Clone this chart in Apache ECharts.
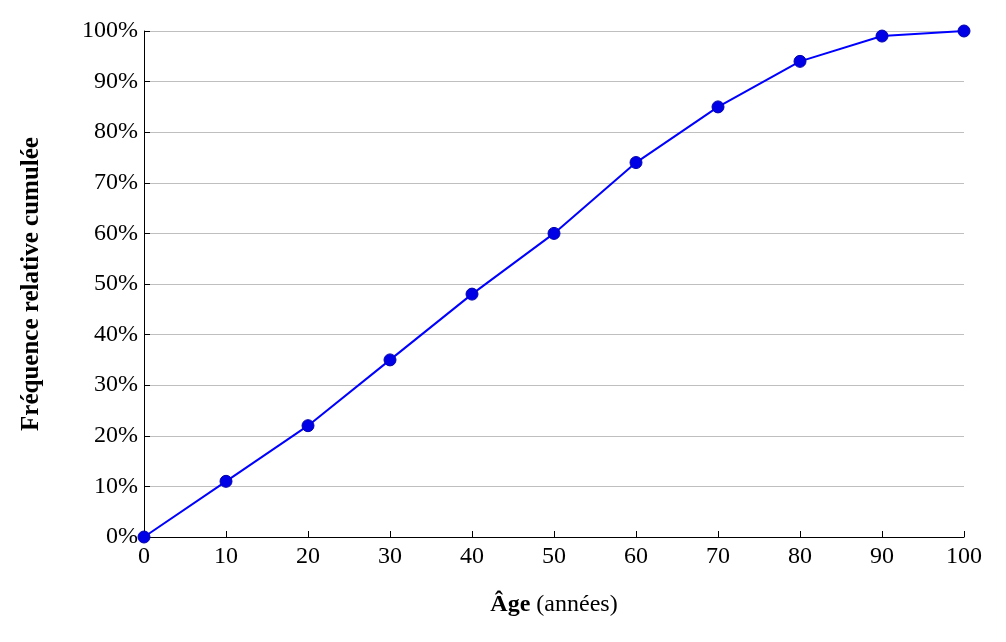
<!DOCTYPE html>
<html>
<head>
<meta charset="utf-8">
<script src="https://cdn.jsdelivr.net/npm/echarts@6/dist/echarts.min.js"></script>
<style>html,body{margin:0;padding:0;background:#fff}#main{width:1006px;height:642px}</style>
</head>
<body>
<div id="main"></div>
<script>
// âges et fréquences cumulées (en %)
var ages = [0, 10, 20, 30, 40, 50, 60, 70, 80, 90, 100]
var frequences = [0, 11, 22, 35, 48, 60, 74, 85, 94, 99, 100]

var points = []
for (var i = 0; i < ages.length; i++) {
    points.push([ages[i], frequences[i]])
}

var police = 'Liberation Serif'
var myChart = echarts.init(document.getElementById('main'))
var option = {
    animation: false,
    grid: {
        left: 144,
        right: 42,
        top: 31,
        bottom: 105
    },
    xAxis: {
        type: 'value',
        min: 0,
        max: 100,
        interval: 10,
        name: '{b|Âge} (années)',
        nameLocation: 'middle',
        nameGap: 56,
        nameTextStyle: {
            fontFamily: police,
            fontSize: 24,
            color: '#000',
            rich: {
                b: { fontFamily: police, fontSize: 24, fontWeight: 'bold', color: '#000' }
            }
        },
        splitLine: { show: false },
        axisLine: { show: true, lineStyle: { color: '#000', width: 1 } },
        axisTick: { show: true, inside: true, length: 6, lineStyle: { color: '#000' } },
        axisLabel: { fontFamily: police, fontSize: 24, color: '#000', margin: 8 }
    },
    yAxis: {
        type: 'value',
        min: 0,
        max: 100,
        interval: 10,
        name: 'Fréquence relative cumulée',
        nameLocation: 'middle',
        nameGap: 100,
        nameTextStyle: {
            fontFamily: police,
            fontSize: 25,
            fontWeight: 'bold',
            color: '#000'
        },
        splitLine: { show: true, lineStyle: { color: '#bfbfbf', width: 1 } },
        axisLine: { show: true, lineStyle: { color: '#000', width: 1 } },
        axisTick: { show: true, inside: true, length: 6, lineStyle: { color: '#000' } },
        axisLabel: {
            fontFamily: police, fontSize: 24, color: '#000', margin: 6,
            formatter: '{value}%'
        }
    },
    series: [
        {
            type: 'line',
            data: points,
            symbol: 'circle',
            symbolSize: 12,
            lineStyle: { color: '#0000ff', width: 2 },
            itemStyle: { color: '#0000e6', borderColor: '#0000b0', borderWidth: 1 }
        }
    ]
}
myChart.setOption(option)
</script>
</body>
</html>
